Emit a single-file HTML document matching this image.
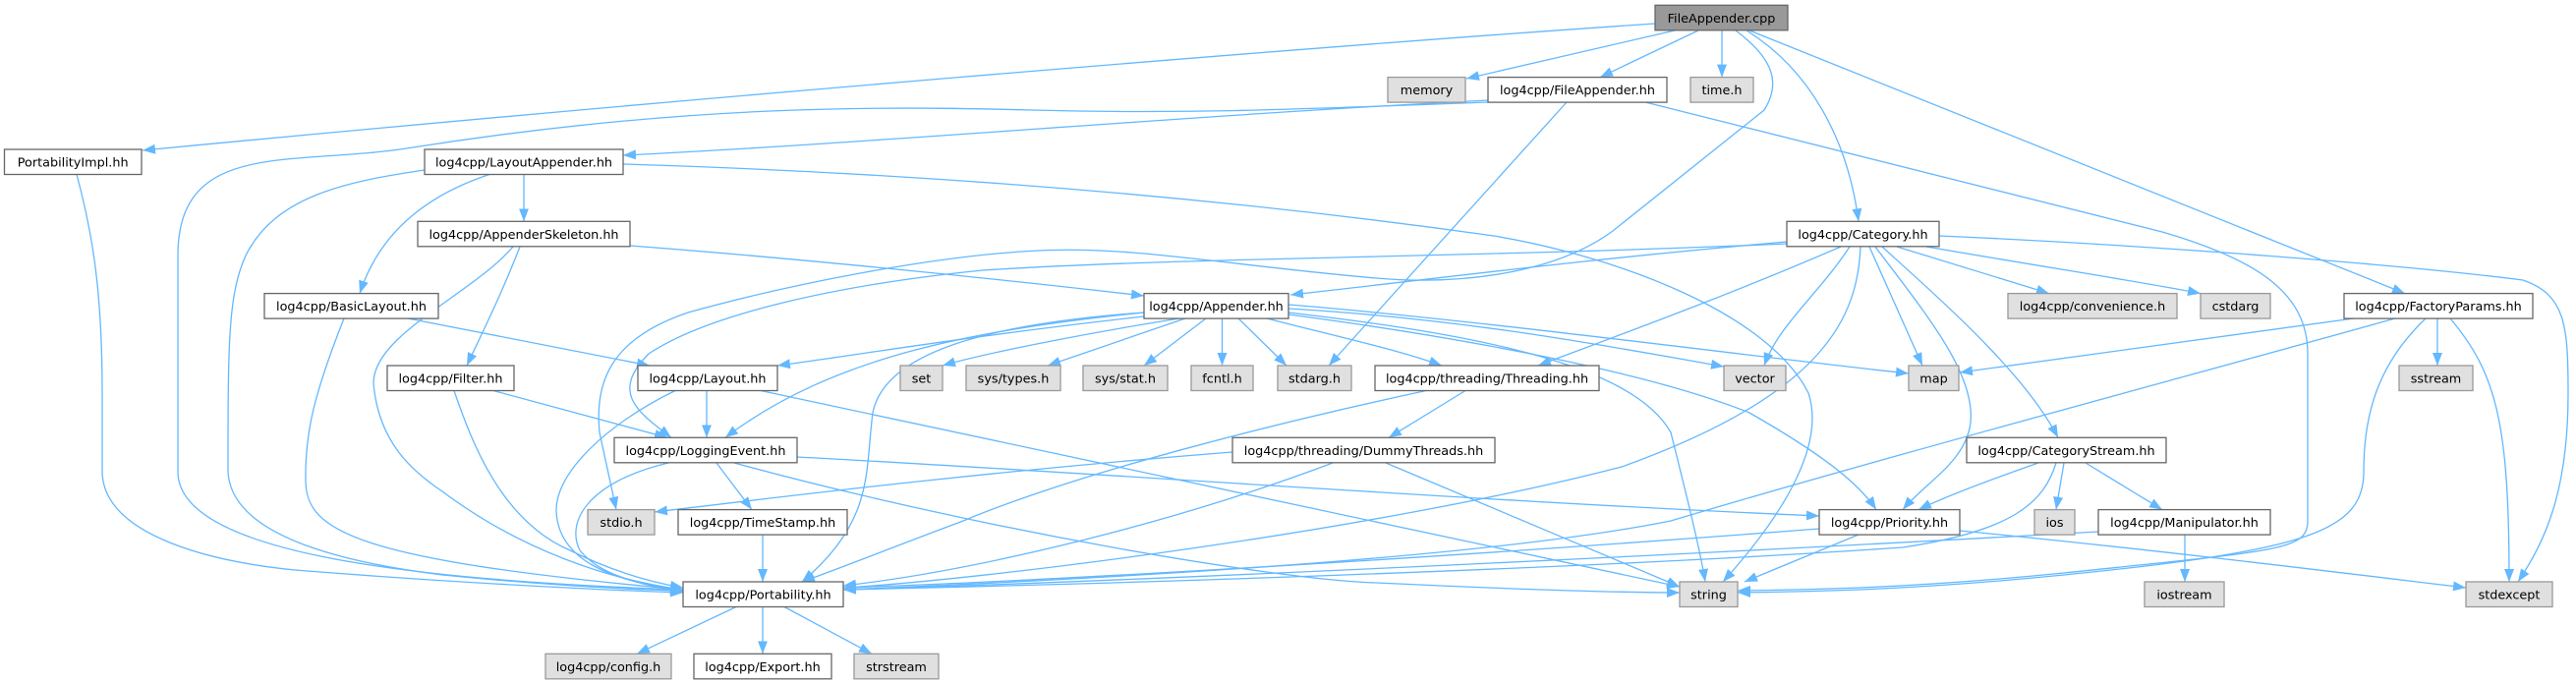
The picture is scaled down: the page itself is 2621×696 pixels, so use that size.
<!DOCTYPE html>
<html><head><meta charset="utf-8"><style>
html,body{margin:0;padding:0;background:#fff;}
svg{display:block;}
text{font-family:"DejaVu Sans","Liberation Sans",sans-serif;font-size:12.8px;fill:#000;text-anchor:middle;}
.e{fill:none;stroke:#63b8ff;stroke-width:1.3;marker-end:url(#a);}
.w{fill:#fff;stroke:#666;stroke-width:1.3;}
.g{fill:#e0e0e0;stroke:#999;stroke-width:1.3;}
.r{fill:#999;stroke:#666;stroke-width:1.3;}
</style></head><body>
<svg width="2621" height="696" viewBox="0 0 2621 696" xmlns="http://www.w3.org/2000/svg">
<defs><marker id="a" markerWidth="14" markerHeight="11" refX="13" refY="5" orient="auto" markerUnits="userSpaceOnUse"><path d="M0,0L13,5L0,10z" fill="#63b8ff"/></marker></defs>
<g>
<path class="e" d="M1684,24 C1300,50 700,100 145,153"/>
<path class="e" d="M1704,31 L1492,80"/>
<path class="e" d="M1728,31 L1628,78.6"/>
<path class="e" d="M1752,31 L1752,78.6"/>
<path class="e" d="M1766,31 C1805,60 1812,85 1795,112 L1641,235 C1580,280 1480,290 1400,283 C1250,270 1150,250 1057,255 C950,260 800,290 700,318 C620,345 605,390 610,440 L627,518.6"/>
<path class="e" d="M1777,31 C1840,70 1880,140 1891,225.3"/>
<path class="e" d="M1780,31 L2447,298.6"/>
<path class="e" d="M1514,102 C1200,118 900,145 634,158"/>
<path class="e" d="M1514,104 C1300,112 1200,116 1050,112 C900,108 700,106 420,150 C300,170 181,140 181,260 L181,480 C181,560 400,590 695,600"/>
<path class="e" d="M1594,104 L1352,372"/>
<path class="e" d="M1674,104 L2200,236 C2300,265 2348,300 2348,360 L2348,530 C2348,560 2320,560 2100,583 C1950,598 1850,600 1768,601"/>
<path class="e" d="M533,177.5 L533,225.3"/>
<path class="e" d="M498,177.5 C430,200 385,240 366,298.6"/>
<path class="e" d="M634,167 C900,175 1200,195 1520,240 C1650,262 1800,320 1840,400 C1860,460 1800,540 1753,592"/>
<path class="e" d="M641,250 C800,262 1000,282 1164,301"/>
<path class="e" d="M529,251 C510,300 490,340 475,372"/>
<path class="e" d="M522,251 C480,300 380,340 380,390 C385,450 420,480 450,500 C530,560 620,590 695,600"/>
<path class="e" d="M415,324 L661,372"/>
<path class="e" d="M350,324 C320,400 310,440 311,490 C312,540 360,570 695,600"/>
<path class="e" d="M502,397.5 L679,445.3"/>
<path class="e" d="M462,397.5 C480,450 510,530 580,560 C620,580 660,592 695,598"/>
<path class="e" d="M719,397.5 L719,445.3"/>
<path class="e" d="M774,397.5 L1709,597"/>
<path class="e" d="M687,397.5 C620,430 565,480 566,520 C568,570 620,590 695,602"/>
<path class="e" d="M1200,324 C1100,340 1000,360 959,372"/>
<path class="e" d="M1206,324 L1066,372"/>
<path class="e" d="M1227,324 L1164,372"/>
<path class="e" d="M1243.5,324 L1243.5,372"/>
<path class="e" d="M1260,324 L1309,372"/>
<path class="e" d="M1289,324 C1350,340 1420,355 1467,372"/>
<path class="e" d="M1311,314 C1500,325 1650,355 1754,373"/>
<path class="e" d="M1311,310 C1500,325 1800,365 1942,380"/>
<path class="e" d="M1311,318 C1500,340 1660,370 1700,440 C1715,500 1730,560 1735,592"/>
<path class="e" d="M1311,320 C1500,345 1680,380 1780,420 C1850,460 1890,490 1909,518.6"/>
<path class="e" d="M1164,318 C1000,335 850,360 738,445.3"/>
<path class="e" d="M1164,322 C1000,340 880,360 791,372"/>
<path class="e" d="M1164,318 C1000,330 900,360 888,420 C880,480 890,530 816,592"/>
<path class="e" d="M1818,246 C1600,265 1450,285 1313,300"/>
<path class="e" d="M1818,248 C1500,262 1200,262 1000,275 C850,290 720,320 660,360 C620,400 650,420 683,445.3"/>
<path class="e" d="M1873,251 C1760,300 1650,340 1565,372"/>
<path class="e" d="M1882,251 C1850,300 1810,330 1795,372"/>
<path class="e" d="M1893,251 C1890,320 1860,400 1650,475 C1400,540 1000,590 858,598"/>
<path class="e" d="M1902,251 L1956,372"/>
<path class="e" d="M1908,251 C1960,320 2010,380 2005,430 C2000,470 1960,490 1936,518.6"/>
<path class="e" d="M1915,251 C1980,310 2060,380 2094,445.3"/>
<path class="e" d="M1930,251 L2085,298.6"/>
<path class="e" d="M1960,251 C2100,275 2180,287 2239,298.6"/>
<path class="e" d="M1973,240 C2200,250 2450,270 2567,285 C2610,300 2613,330 2613,400 C2613,500 2590,550 2562,592"/>
<path class="e" d="M2395,324 L1994,379"/>
<path class="e" d="M2437,324 C2200,390 1900,470 1700,530 C1500,570 1100,590 858,600"/>
<path class="e" d="M2480,324 L2480,372"/>
<path class="e" d="M2468,324 C2420,370 2405,420 2405,480 C2405,540 2350,560 2100,585 C1950,600 1850,602 1768,603"/>
<path class="e" d="M2493,324 C2540,380 2553,430 2553,592"/>
<path class="e" d="M1491,397.5 L1413,445.3"/>
<path class="e" d="M1451,397.5 C1300,430 1100,480 980,530 C900,560 850,580 816,592"/>
<path class="e" d="M1254,460 C1000,480 800,505 666,521"/>
<path class="e" d="M1356,471 C1200,530 1000,580 858,596"/>
<path class="e" d="M1410,471 L1709,597"/>
<path class="e" d="M2074,471 C2020,490 1980,505 1952,518.6"/>
<path class="e" d="M2100,471 L2092,518.6"/>
<path class="e" d="M2122,471 L2200,518.6"/>
<path class="e" d="M2092,471 C2080,510 2050,540 1936,557 C1600,580 1100,595 858,600"/>
<path class="e" d="M2223,544 L2223,592"/>
<path class="e" d="M2135,541 C1800,560 1200,590 858,600"/>
<path class="e" d="M1891,544 L1775,592"/>
<path class="e" d="M1994,540 C2200,560 2400,585 2509,598"/>
<path class="e" d="M1851,538 C1500,565 1100,590 858,598"/>
<path class="e" d="M729,471 L765,518.6"/>
<path class="e" d="M680,471 C600,490 575,530 590,560 C610,585 650,595 695,600"/>
<path class="e" d="M747,471 C1000,540 1300,590 1400,593 C1550,600 1650,603 1709,603"/>
<path class="e" d="M811,465 C1100,480 1500,510 1851,525"/>
<path class="e" d="M776,544 L776,592"/>
<path class="e" d="M78,177.5 C95,240 104,300 104,400 L104,480 C105,540 200,570 300,580 C450,592 600,600 695,603"/>
<path class="e" d="M749,617.5 L648,665.3"/>
<path class="e" d="M776,617.5 L776,665.3"/>
<path class="e" d="M798,617.5 L887,665.3"/>
<path class="e" d="M432,173 C350,185 280,200 250,260 C232,300 232,350 232,480 C235,540 330,570 450,585 C550,595 640,600 695,601"/>
</g>
<g>
<rect class="r" x="1684" y="5.3" width="135" height="25.5"/><text x="1751.5" y="22.8">FileAppender.cpp</text>
<rect class="g" x="1412" y="78.6" width="79" height="25.5"/><text x="1451.5" y="96.1">memory</text>
<rect class="w" x="1514" y="78.6" width="182" height="25.5"/><text x="1605" y="96.1">log4cpp/FileAppender.hh</text>
<rect class="g" x="1720" y="78.6" width="64" height="25.5"/><text x="1752" y="96.1">time.h</text>
<rect class="w" x="4.5" y="152" width="139.5" height="25.5"/><text x="74.2" y="169.5">PortabilityImpl.hh</text>
<rect class="w" x="432" y="152" width="202" height="25.5"/><text x="533" y="169.5">log4cpp/LayoutAppender.hh</text>
<rect class="w" x="425" y="225.3" width="216" height="25.5"/><text x="533" y="242.8">log4cpp/AppenderSkeleton.hh</text>
<rect class="w" x="1818" y="225.3" width="155" height="25.5"/><text x="1895.5" y="242.8">log4cpp/Category.hh</text>
<rect class="w" x="269" y="298.6" width="177" height="25.5"/><text x="357.5" y="316.1">log4cpp/BasicLayout.hh</text>
<rect class="w" x="1164" y="298.6" width="147" height="25.5"/><text x="1237.5" y="316.1">log4cpp/Appender.hh</text>
<rect class="g" x="2043" y="298.6" width="172" height="25.5"/><text x="2129" y="316.1">log4cpp/convenience.h</text>
<rect class="g" x="2239" y="298.6" width="71" height="25.5"/><text x="2274.5" y="316.1">cstdarg</text>
<rect class="w" x="2385" y="298.6" width="192" height="25.5"/><text x="2481" y="316.1">log4cpp/FactoryParams.hh</text>
<rect class="w" x="394" y="372" width="129" height="25.5"/><text x="458.5" y="389.5">log4cpp/Filter.hh</text>
<rect class="w" x="649" y="372" width="142" height="25.5"/><text x="720" y="389.5">log4cpp/Layout.hh</text>
<rect class="g" x="916" y="372" width="43" height="25.5"/><text x="937.5" y="389.5">set</text>
<rect class="g" x="983" y="372" width="96" height="25.5"/><text x="1031" y="389.5">sys/types.h</text>
<rect class="g" x="1102" y="372" width="86" height="25.5"/><text x="1145" y="389.5">sys/stat.h</text>
<rect class="g" x="1212" y="372" width="63" height="25.5"/><text x="1243.5" y="389.5">fcntl.h</text>
<rect class="g" x="1300" y="372" width="75" height="25.5"/><text x="1337.5" y="389.5">stdarg.h</text>
<rect class="w" x="1399" y="372" width="228" height="25.5"/><text x="1513" y="389.5">log4cpp/threading/Threading.hh</text>
<rect class="g" x="1754" y="372" width="63" height="25.5"/><text x="1785.5" y="389.5">vector</text>
<rect class="g" x="1942" y="372" width="51" height="25.5"/><text x="1967.5" y="389.5">map</text>
<rect class="g" x="2441" y="372" width="75" height="25.5"/><text x="2478.5" y="389.5">sstream</text>
<rect class="w" x="625" y="445.3" width="186" height="25.5"/><text x="718" y="462.8">log4cpp/LoggingEvent.hh</text>
<rect class="w" x="1254" y="445.3" width="267" height="25.5"/><text x="1387.5" y="462.8">log4cpp/threading/DummyThreads.hh</text>
<rect class="w" x="2001" y="445.3" width="203" height="25.5"/><text x="2102.5" y="462.8">log4cpp/CategoryStream.hh</text>
<rect class="g" x="598" y="518.6" width="68" height="25.5"/><text x="632" y="536.1">stdio.h</text>
<rect class="w" x="690" y="518.6" width="172" height="25.5"/><text x="776" y="536.1">log4cpp/TimeStamp.hh</text>
<rect class="w" x="1851" y="518.6" width="143" height="25.5"/><text x="1922.5" y="536.1">log4cpp/Priority.hh</text>
<rect class="g" x="2070" y="518.6" width="41" height="25.5"/><text x="2090.5" y="536.1">ios</text>
<rect class="w" x="2135" y="518.6" width="175" height="25.5"/><text x="2222.5" y="536.1">log4cpp/Manipulator.hh</text>
<rect class="w" x="695" y="592" width="163" height="25.5"/><text x="776.5" y="609.5">log4cpp/Portability.hh</text>
<rect class="g" x="1709" y="592" width="59" height="25.5"/><text x="1738.5" y="609.5">string</text>
<rect class="g" x="2182" y="592" width="81" height="25.5"/><text x="2222.5" y="609.5">iostream</text>
<rect class="g" x="2509" y="592" width="88" height="25.5"/><text x="2553" y="609.5">stdexcept</text>
<rect class="g" x="555" y="665.3" width="128" height="25.5"/><text x="619" y="682.8">log4cpp/config.h</text>
<rect class="w" x="706" y="665.3" width="140" height="25.5"/><text x="776" y="682.8">log4cpp/Export.hh</text>
<rect class="g" x="869" y="665.3" width="86" height="25.5"/><text x="912" y="682.8">strstream</text>
</g>
</svg>
</body></html>
